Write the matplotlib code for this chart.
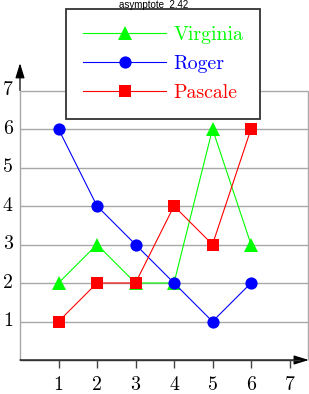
import numpy as np
import matplotlib
matplotlib.use("Agg")
import matplotlib.pyplot as plt

# ====== data ======
x = [1, 2, 3, 4, 5, 6]
virginia = [2, 3, 2, 2, 6, 3]
roger = [6, 4, 3, 2, 1, 2]
pascale = [1, 2, 2, 4, 3, 6]
xticks = [1, 2, 3, 4, 5, 6, 7]
yticks = [1, 2, 3, 4, 5, 6, 7]

W, H = 309, 394
x0, y0, s = 20, 360, 38.5   # origin (px) and px per unit
xend = 7.48
ytip = 7.71

plt.rcParams['font.family'] = ['cmr10', 'DejaVu Serif']
plt.rcParams['axes.formatter.use_mathtext'] = True

fig = plt.figure(figsize=(W / 100, H / 100), dpi=100)
ax = fig.add_axes([0, 0, 1, 1])
ax.set_xlim(-x0 / s, (W - x0) / s)
ax.set_ylim((y0 - H) / s, y0 / s)
ax.axis("off")

gray = "#a8a8a8"
# grid + frame
ax.hlines(yticks, 0, xend, color=gray, lw=1.0, zorder=1)
ax.vlines([0, xend], 0, max(yticks), color=gray, lw=1.0, zorder=1)

# axes with arrows
ax.annotate("", xy=(xend + 0.02, 0), xytext=(0, 0),
            arrowprops=dict(arrowstyle="-|>,head_length=0.9,head_width=0.28",
                            color="black", lw=0.9, shrinkA=0, shrinkB=0), zorder=2)
ax.annotate("", xy=(0, ytip), xytext=(0, max(yticks)),
            arrowprops=dict(arrowstyle="-|>,head_length=0.9,head_width=0.28",
                            color="black", lw=0.9, shrinkA=0, shrinkB=0), zorder=2)
ax.hlines(0, 0, xend - 0.2, color="#333333", lw=1.0, zorder=2)

# ticks and labels
ax.vlines(xticks, -0.21, 0, color="#444444", lw=1.0)
for t in xticks:
    ax.text(t, -0.66, str(t), ha="center", va="center", fontsize=14.3)
for t in yticks:
    ax.text(-0.32, t, str(t), ha="center", va="center", fontsize=14.3)

# series
ax.plot(x, virginia, color="#00ff00", lw=0.8, marker="^", ms=10,
        markeredgewidth=0, label="Virginia", zorder=3)
ax.plot(x, roger, color="#0000ff", lw=0.8, marker="o", ms=8.8,
        markeredgewidth=0, label="Roger", zorder=4)
ax.plot(x, pascale, color="#ff0000", lw=0.8, marker="s", ms=8.3,
        markeredgewidth=0, label="Pascale", zorder=5)

leg = ax.legend(loc="upper left", bbox_to_anchor=(66 / W, 1 - 9 / H),
                bbox_transform=fig.transFigure, fontsize=14.3, frameon=True,
                fancybox=False, edgecolor="#333333", framealpha=1,
                handlelength=4.2, handletextpad=0.35, borderpad=0.85,
                labelspacing=0.56, borderaxespad=0)
leg.get_frame().set_linewidth(1.3)
for txt, ln in zip(leg.get_texts(), leg.get_lines()):
    txt.set_color(ln.get_color())

fig.text(154 / W, 1 - 4.5 / H, "asymptote  2.42", ha="center", va="center",
         fontsize=7, family="Liberation Sans")

fig.savefig("out.png", dpi=100)
